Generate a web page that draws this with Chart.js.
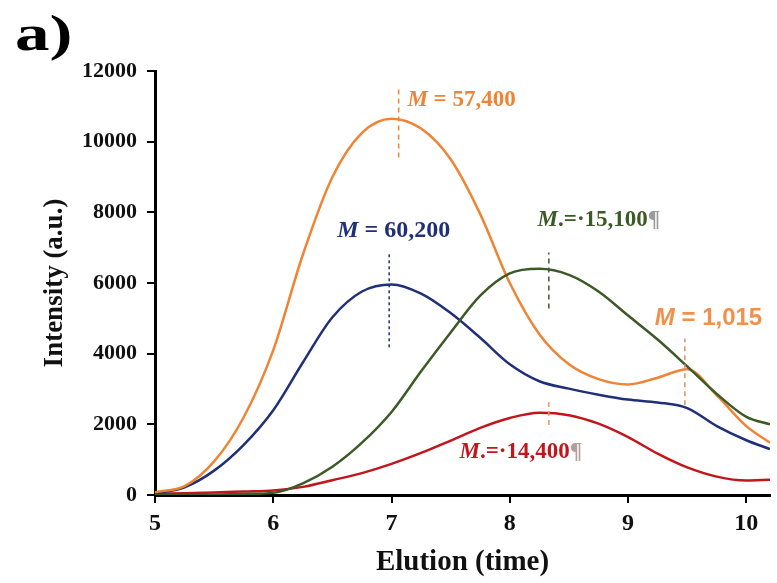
<!DOCTYPE html>
<html>
<head>
<meta charset="utf-8">
<script src="https://cdn.jsdelivr.net/npm/chart.js@4/dist/chart.umd.min.js"></script>
<style>
  html, body { margin: 0; padding: 0; background: #fff; }
  #wrap { width: 777px; height: 583px; }
</style>
</head>
<body>
<div id="wrap"><canvas id="elutionChart" width="777" height="583"></canvas></div>
<script>
// elution time (x) and intensities
const elution = [5.0, 5.25, 5.5, 5.75, 6.0, 6.25, 6.5, 6.75, 7.0, 7.25, 7.5, 7.75,
                 8.0, 8.25, 8.5, 8.75, 9.0, 9.25, 9.5, 9.75, 10.0, 10.2];
const orangeSeries = [80, 250, 950, 2200, 4100, 6800, 9000, 10250, 10650, 10370, 9500, 7950,
                      6000, 4550, 3700, 3280, 3130, 3320, 3560, 2820, 1950, 1480];
const blueSeries = [40, 220, 690, 1420, 2400, 3750, 5030, 5760, 5960, 5700, 5150, 4450,
                    3700, 3220, 3010, 2840, 2700, 2620, 2460, 1950, 1550, 1300];
const greenSeries = [0, 0, 10, 30, 60, 330, 800, 1480, 2350, 3500, 4600, 5640,
                     6270, 6400, 6230, 5760, 5080, 4400, 3640, 2860, 2210, 2000];
const redSeries = [30, 50, 70, 100, 130, 230, 420, 620, 880, 1190, 1540, 1900,
                   2180, 2330, 2260, 2020, 1640, 1170, 780, 520, 410, 430];

const xTickValues = [5, 6, 7, 8, 9, 10];
const yTickValues = [0, 2000, 4000, 6000, 8000, 10000, 12000];

// peak markers (dashed lines) and the molar mass labels, in data units
const peakX = [7.06, 6.98, 8.33, 8.33, 9.48];
const peakFrom = [9550, 4180, 5280, 1980, 2540];
const peakTo = [11500, 6840, 6860, 2740, 4430];
const massLabels = ['57,400', '60,200', '15,100', '14,400', '1,015'];
const labelX = [7.134, 6.541, 8.235, 7.575, 9.226];
const labelY = [11180, 7470, 7780, 1215, 5010];

const ORANGE = '#ee8434';
const BLUE = '#1f2f78';
const GREEN = '#3b5a26';
const RED = '#c0161c';
const SERIF = '"Liberation Serif", "Times New Roman", serif';

const markerStyles = [
    { color: ORANGE, dash: [5, 4] },
    { color: BLUE, dash: [3, 3] },
    { color: '#44523a', dash: [5, 4] },
    { color: '#e49a68', dash: [5, 4] },
    { color: '#d99068', dash: [5, 4] }
];

function labelParts(i) {
    const serifBold = 'bold 23px ' + SERIF;
    const serifItalic = 'italic bold 23px ' + SERIF;
    if (i === 0) return [{ t: 'M', f: serifItalic, c: ORANGE }, { t: ' = ' + massLabels[0], f: serifBold, c: ORANGE }];
    if (i === 1) return [{ t: 'M', f: 'italic bold 24px ' + SERIF, c: BLUE }, { t: ' = ' + massLabels[1], f: 'bold 24px ' + SERIF, c: BLUE }];
    if (i === 2) return [{ t: 'M', f: serifItalic, c: GREEN }, { t: '.=·' + massLabels[2], f: serifBold, c: GREEN }, { t: '¶', f: serifBold, c: '#9a9a9a' }];
    if (i === 3) return [{ t: 'M', f: serifItalic, c: RED }, { t: '.=·' + massLabels[3], f: serifBold, c: RED }, { t: '¶', f: serifBold, c: '#b0a0a0' }];
    return [{ t: 'M', f: 'italic bold 24px "Liberation Sans", sans-serif', c: '#f0904a' },
            { t: ' = ' + massLabels[4], f: 'bold 24px "Liberation Sans", sans-serif', c: '#f0904a' }];
}

const peakLabelPlugin = {
    id: 'peakLabels',
    afterDatasetsDraw(chart) {
        const ctx = chart.ctx;
        const xs = chart.scales.x;
        const ys = chart.scales.y;
        ctx.save();
        peakX.forEach((px, i) => {
            ctx.beginPath();
            ctx.setLineDash(markerStyles[i].dash);
            ctx.strokeStyle = markerStyles[i].color;
            ctx.lineWidth = 1.5;
            ctx.moveTo(xs.getPixelForValue(px), ys.getPixelForValue(peakFrom[i]));
            ctx.lineTo(xs.getPixelForValue(px), ys.getPixelForValue(peakTo[i]));
            ctx.stroke();
        });
        ctx.setLineDash([]);
        ctx.textBaseline = 'middle';
        ctx.textAlign = 'left';
        massLabels.forEach((m, i) => {
            let x = xs.getPixelForValue(labelX[i]);
            const y = ys.getPixelForValue(labelY[i]);
            labelParts(i).forEach(p => {
                ctx.font = p.f;
                ctx.fillStyle = p.c;
                ctx.fillText(p.t, x, y);
                x += ctx.measureText(p.t).width;
            });
        });
        // panel letter, slightly widened like the source figure
        ctx.font = 'bold 50px ' + SERIF;
        ctx.fillStyle = '#000';
        ctx.translate(15, 37);
        ctx.scale(1.38, 1);
        ctx.fillText('a)', 0, 0);
        ctx.restore();
    }
};

function series(values, color) {
    return {
        data: elution.map((x, i) => ({ x: x, y: values[i] })),
        borderColor: color,
        borderWidth: 2.5,
        pointRadius: 0,
        cubicInterpolationMode: 'monotone',
        fill: false
    };
}

const ctx = document.getElementById('elutionChart').getContext('2d');
new Chart(ctx, {
    type: 'line',
    data: {
        datasets: [
            series(greenSeries, GREEN),
            series(orangeSeries, ORANGE),
            series(blueSeries, BLUE),
            series(redSeries, RED)
        ]
    },
    options: {
        responsive: false,
        animation: false,
        layout: { padding: { top: 71, right: 7, left: 0, bottom: 0 } },
        plugins: { legend: { display: false }, tooltip: { enabled: false } },
        scales: {
            x: {
                type: 'linear',
                min: 5,
                max: 10.2,
                afterFit: s => { s.height = 88; },
                afterBuildTicks: s => { s.ticks = xTickValues.map(v => ({ value: v })); },
                ticks: { color: '#111', padding: 6, font: { family: SERIF, size: 24, weight: 'bold' } },
                grid: { drawOnChartArea: false, drawTicks: true, tickLength: 8, color: '#000', lineWidth: 2 },
                border: { display: true, color: '#000', width: 3 },
                title: {
                    display: true, text: 'Elution (time)', color: '#111',
                    padding: { top: 0, bottom: 3 },
                    font: { family: SERIF, size: 29, weight: 'bold' }
                }
            },
            y: {
                min: 0,
                max: 12000,
                afterFit: s => { s.width = 155; },
                afterBuildTicks: s => { s.ticks = yTickValues.map(v => ({ value: v })); },
                ticks: { color: '#111', padding: 10, callback: v => String(v), font: { family: SERIF, size: 22, weight: 'bold' } },
                grid: { drawOnChartArea: false, drawTicks: true, tickLength: 8, color: '#000', lineWidth: 2 },
                border: { display: true, color: '#000', width: 3 },
                title: {
                    display: true, text: 'Intensity (a.u.)', color: '#111',
                    padding: { top: 39, bottom: 0 },
                    font: { family: SERIF, size: 27, weight: 'bold' }
                }
            }
        }
    },
    plugins: [peakLabelPlugin]
});
</script>
</body>
</html>
